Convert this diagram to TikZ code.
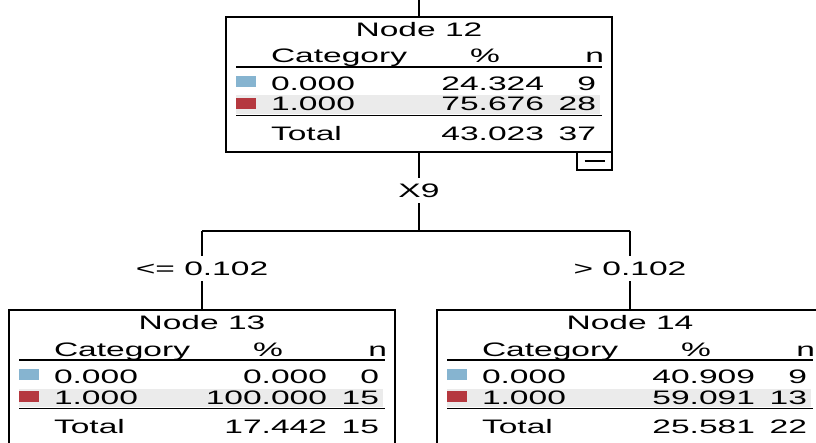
\documentclass[tikz,border=0pt]{standalone}
\usepackage{fontspec}
\newfontfamily\tf[FakeStretch=1.72]{Liberation Sans}
\definecolor{cblue}{HTML}{86B4D0}
\definecolor{cred}{HTML}{B5383F}
\definecolor{cband}{HTML}{EBEBEB}
\tikzset{
  box/.style={draw, line width=1.5pt, minimum width=386pt, minimum height=135pt, inner sep=0pt, outer sep=0pt},
  txt/.style={font=\tf\fontsize{19.5}{19.5}\selectfont, inner sep=0pt, outer sep=0pt},
  rulel/.style={line width=1.6pt},
  conn/.style={line width=1.5pt},
  sq/.style={minimum width=20pt, minimum height=11pt, inner sep=0pt, draw=none},
  lab/.style={txt, minimum height=25pt},
}
\newcommand\treebox[9]{%
  \node[box, anchor=north west] (#1) at #2 {};
  \begin{scope}[shift={#2}]
    \fill[cband] (10,78.5) rectangle (374,97);
    \node[txt, anchor=base] (#1t) at (193,20) {#3};
    \node[txt, anchor=base west] (#1c) at (45,46) {Category};
    \node[txt, anchor=base] (#1p) at (259,46) {\%};
    \node[txt, anchor=base east] (#1n) at (378,46) {n};
    \draw[rulel] (10,50) -- (376,50);
    \node[sq, fill=cblue] (#1s0) at (20,64.5) {};
    \node[txt, anchor=base west] (#1a0) at (45,73.5) {0.000};
    \node[txt, anchor=base east] (#1b0) at (318,73.5) {#4};
    \node[txt, anchor=base east] (#1m0) at (370,73.5) {#5};
    \node[sq, fill=cred] (#1s1) at (20,86.5) {};
    \node[txt, anchor=base west] (#1a1) at (45,94) {1.000};
    \node[txt, anchor=base east] (#1b1) at (318,94) {#6};
    \node[txt, anchor=base east] (#1m1) at (370,94) {#7};
    \draw[rulel] (10,98.5) -- (376,98.5);
    \node[txt, anchor=base west] (#1at) at (45,123.5) {Total};
    \node[txt, anchor=base east] (#1bt) at (318,123.5) {#8};
    \node[txt, anchor=base east] (#1mt) at (370,123.5) {#9};
  \end{scope}}
\begin{document}
\begin{tikzpicture}[x=1pt, y=-1pt]
  \fill[white] (0,0) rectangle (816,443);
  \useasboundingbox (0,0) rectangle (816,443);
  \clip (0,0) rectangle (816,443);

  \treebox{n12}{(226,17)}{Node 12}{24.324}{9}{75.676}{28}{43.023}{37}
  \treebox{n13}{(9,310)}{Node 13}{0.000}{0}{100.000}{15}{17.442}{15}
  \treebox{n14}{(437,310)}{Node 14}{40.909}{9}{59.091}{13}{25.581}{22}

  % collapse button
  \node[draw, line width=1.5pt, minimum width=35pt, minimum height=18pt, inner sep=0pt, outer sep=0pt, anchor=north east] (cb) at (n12.south east) {};
  \draw[line width=1.5pt] ([xshift=-10pt]cb.center) -- ([xshift=10pt]cb.center);

  % labels
  \node[lab] (x9) at (419,191) {X9};
  \node[lab] (lab13) at (202,269) {<= 0.102};
  \node[lab] (lab14) at (630,269) {> 0.102};

  \coordinate (top) at (419,0);
  \coordinate (jc) at (419,231);
  \coordinate (jl) at (202,231);
  \coordinate (jr) at (630,231);

  \draw[conn] (top) -- (n12.north);
  \draw[conn] (n12.south) -- (x9);
  \draw[conn] (x9) -- (jc);
  \draw[conn] (jl) -- (jr);
  \draw[conn] (jl) -- (lab13);
  \draw[conn] (lab13) -- (n13.north);
  \draw[conn] (jr) -- (lab14);
  \draw[conn] (lab14) -- (n14.north);
\end{tikzpicture}
\end{document}
